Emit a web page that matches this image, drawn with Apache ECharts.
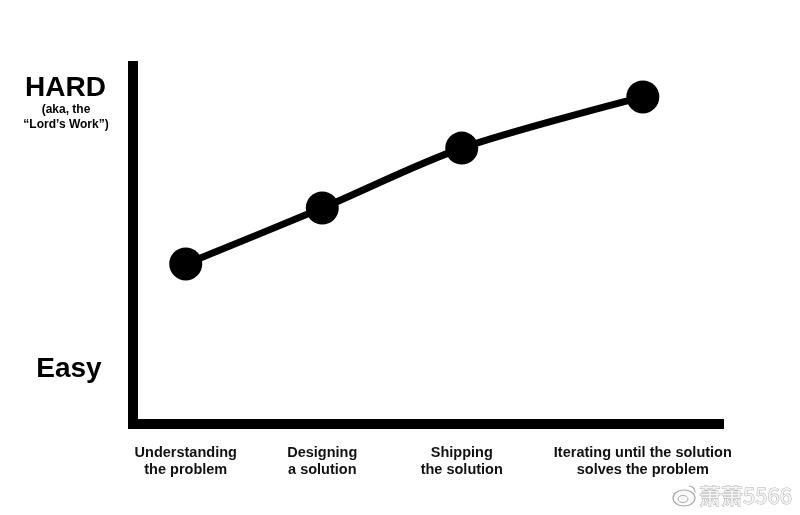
<!DOCTYPE html>
<html>
<head>
<meta charset="utf-8">
<script src="https://cdn.jsdelivr.net/npm/echarts@6/dist/echarts.min.js"></script>
<style>html,body{margin:0;padding:0;background:#fff}#c{width:800px;height:515px}</style>
</head>
<body>
<div id="c"></div>
<script>
// Stages of work (x positions along the axis, 0-100) and their difficulty (0 = easy, 100 = hard)
var stages = ['Understanding\nthe problem', 'Designing\na solution', 'Shipping\nthe solution', 'Iterating until the solution\nsolves the problem'];
var stageX = [9.0, 32.3, 56.1, 87.0];
var difficulty = [44.1, 59.5, 76.0, 90.1];
var yTop = 'HARD';
var yTopNote = '(aka, the\n\u201cLord\u2019s Work\u201d)';
var yBottom = 'Easy';
var watermark = '萧萧5566';

var chart = echarts.init(document.getElementById('c'), null, {renderer: 'canvas'});
var FONT = '"Liberation Sans", Arial, Helvetica, sans-serif';
chart.setOption({
  animation: false,
  backgroundColor: '#fff',
  grid: {left: 133, right: 81, top: 61, bottom: 91},
  xAxis: {
    type: 'value', min: 0, max: 100,
    axisLine: {show: true, lineStyle: {color: '#000', width: 10, cap: 'square'}},
    axisTick: {show: false},
    splitLine: {show: false},
    axisLabel: {
      show: true,
      customValues: stageX,
      margin: 20,
      color: '#111',
      fontFamily: FONT,
      fontWeight: 'bold',
      fontSize: 14.5,
      lineHeight: 17,
      align: 'center',
      formatter: function (v) {
        for (var i = 0; i < stageX.length; i++) if (Math.abs(stageX[i] - v) < 1e-6) return stages[i];
        return '';
      }
    }
  },
  yAxis: {
    type: 'value', min: 0, max: 100,
    axisLine: {show: true, lineStyle: {color: '#000', width: 10, cap: 'butt'}},
    axisTick: {show: false},
    splitLine: {show: false},
    axisLabel: {show: false}
  },
  series: [{
    type: 'line',
    data: stageX.map(function (x, i) { return [x, difficulty[i]]; }),
    smooth: 0.3,
    symbol: 'circle',
    symbolSize: 33,
    itemStyle: {color: '#000'},
    lineStyle: {color: '#000', width: 7}
  }],
  graphic: [
    {type: 'text', x: 65.5, y: 88, style: {text: yTop, font: 'bold 28px ' + FONT, fill: '#000', align: 'center', verticalAlign: 'middle'}},
    {type: 'text', x: 66, y: 117, style: {text: yTopNote, font: 'bold 12px ' + FONT, fill: '#000', align: 'center', verticalAlign: 'middle', lineHeight: 15}},
    {type: 'text', x: 69, y: 369, style: {text: yBottom, font: 'bold 28px ' + FONT, fill: '#000', align: 'center', verticalAlign: 'middle'}},
    {type: 'ellipse', shape: {cx: 684, cy: 498, rx: 11, ry: 8}, style: {fill: '#fafafa', stroke: '#aaa', lineWidth: 1.2}},
    {type: 'ellipse', shape: {cx: 683, cy: 499, rx: 5, ry: 3.5}, style: {fill: 'none', stroke: '#aaa', lineWidth: 1}},
    {type: 'arc', shape: {cx: 689, cy: 492, r: 6, startAngle: -Math.PI / 2, endAngle: 0}, style: {fill: 'none', stroke: '#aaa', lineWidth: 1.2}},
    {type: 'text', x: 699, y: 496, style: {text: watermark, font: '22px "Noto Sans CJK SC", sans-serif', fill: '#f5f5f5', stroke: '#b0b0b0', lineWidth: 1, align: 'left', verticalAlign: 'middle'}}
  ]
});
</script>
</body>
</html>
